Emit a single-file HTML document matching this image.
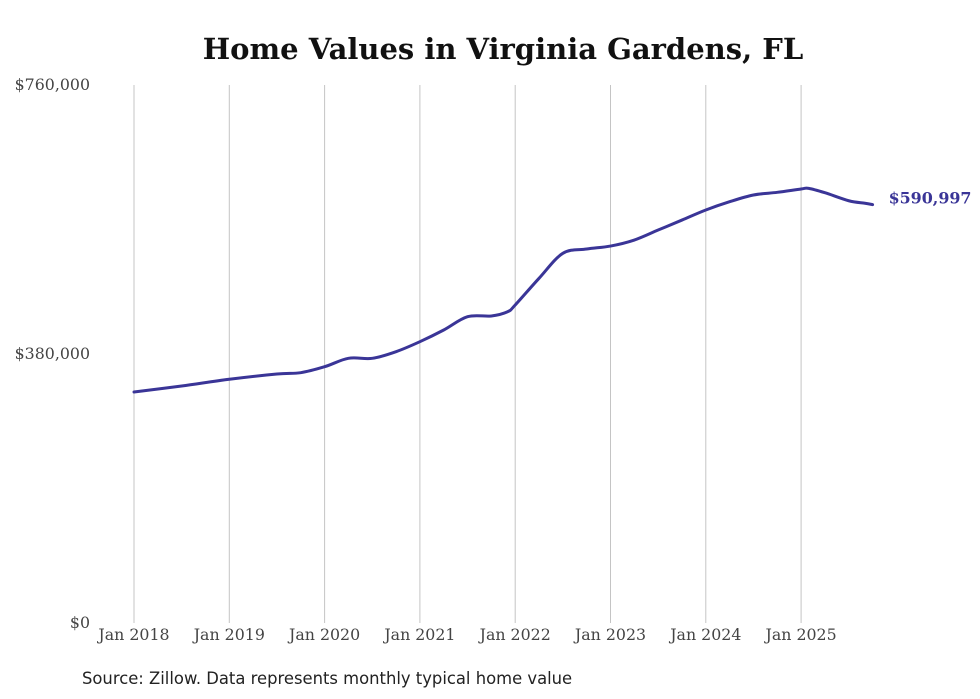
<!DOCTYPE html>
<html><head><meta charset="utf-8">
<style>
body{margin:0;background:#fff;}
svg{display:block;}
</style></head>
<body>
<svg width="980" height="699" id="chart">
<text x="503" y="59" text-anchor="middle" font-family="DejaVu Serif, serif" font-weight="bold" font-size="29" fill="#111">Home Values in Virginia Gardens, FL</text>
<g id="grid"></g>
<g id="yticks"></g>
<g id="xticks"></g>
<path id="line" fill="none" stroke="#3a3597" stroke-width="3" stroke-linejoin="round" stroke-linecap="round"></path>
<text id="endlabel" font-family="DejaVu Serif, serif" font-weight="bold" font-size="15.9" fill="#3a3597"></text>
<text x="82" y="684" font-family="DejaVu Sans, sans-serif" font-size="16.4" fill="#222">Source: Zillow. Data represents monthly typical home value</text>
</svg>
<script>
const dates=[2018.0,2018.5,2019.0,2019.5,2019.75,2020.0,2020.25,2020.5,2020.75,2021.0,2021.25,2021.5,2021.75,2021.92,2022.0,2022.25,2022.5,2022.75,2023.0,2023.25,2023.5,2023.75,2024.0,2024.25,2024.5,2024.75,2025.0,2025.08,2025.25,2025.5,2025.67,2025.75];
const values=[326300,334800,344300,351700,353600,362000,373900,373900,383300,397400,413900,432700,433700,439700,449200,486900,522200,528300,532500,541000,555100,569200,583400,595100,604600,608400,613100,614000,607800,596500,592900,590997];
const yTickValues=[0,380000,760000];
const yTickLabels=["$0","$380,000","$760,000"];
const xTickYears=[2018,2019,2020,2021,2022,2023,2024,2025];
const xTickLabels=["Jan 2018","Jan 2019","Jan 2020","Jan 2021","Jan 2022","Jan 2023","Jan 2024","Jan 2025"];
const NS="http://www.w3.org/2000/svg";
const X=d=>134+(d-2018)*95.3;
const Y=v=>623-v/760000*538;
function el(tag,attrs,parent,txt){const e=document.createElementNS(NS,tag);for(const k in attrs)e.setAttribute(k,attrs[k]);if(txt!=null)e.textContent=txt;parent.appendChild(e);return e;}
const grid=document.getElementById('grid'),xt=document.getElementById('xticks'),yt=document.getElementById('yticks');
xTickYears.forEach((yr,i)=>{
 const l=el('line',{x1:X(yr),x2:X(yr),y1:85,y2:623,stroke:'#c4c4c4','stroke-width':1},grid);
 
 
 const t=el('text',{x:X(yr),y:640,'text-anchor':'middle','font-family':'DejaVu Serif, serif','font-size':15.8,fill:'#444'},xt,xTickLabels[i]);
 
 
});
yTickValues.forEach((v,i)=>{
 const t=el('text',{x:90,y:Y(v)+5,'text-anchor':'end','font-family':'DejaVu Serif, serif','font-size':15.8,fill:'#444'},yt,yTickLabels[i]);
 
 
});
const pts=dates.map((d,i)=>[X(d),Y(values[i])]);
let p='M'+pts[0][0]+','+pts[0][1];
for(let i=0;i<pts.length-1;i++){
 const p0=pts[i-1]||pts[i],p1=pts[i],p2=pts[i+1],p3=pts[i+2]||p2;
 const c1=[p1[0]+(p2[0]-p0[0])/6,p1[1]+(p2[1]-p0[1])/6];
 const c2=[p2[0]-(p3[0]-p1[0])/6,p2[1]-(p3[1]-p1[1])/6];
 p+=` C${c1[0]},${c1[1]} ${c2[0]},${c2[1]} ${p2[0]},${p2[1]}`;
}
document.getElementById('line').setAttribute('d',p);
const last=pts[pts.length-1];
const lab=document.getElementById('endlabel');
lab.setAttribute('x',last[0]+16);lab.setAttribute('y',last[1]-1);
lab.textContent='$'+values[values.length-1].toLocaleString('en-US');
</script>
</body></html>
